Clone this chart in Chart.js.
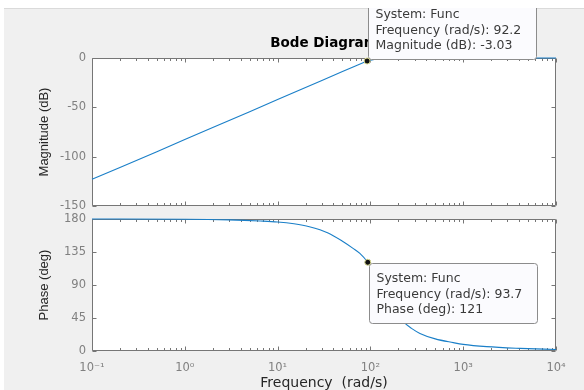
<!DOCTYPE html>
<html>
<head>
<meta charset="utf-8">
<script src="https://cdn.jsdelivr.net/npm/chart.js@4.4.0/dist/chart.umd.min.js"></script>
<style>
  html, body { margin: 0; padding: 0; background: #fff; }
  body { width: 584px; height: 390px; position: relative; overflow: hidden; }
  #fig { position: absolute; left: 4px; top: 8px; width: 580px; height: 382px; background: #f0f0f0; border-top: 1px solid #dadada; box-sizing: border-box; }
  canvas { position: absolute; left: 0; }
  #magChart { top: 8px; }
  #phaseChart { top: 212px; }
</style>
</head>
<body>
<div id="fig"></div>
<canvas id="magChart" width="584" height="204"></canvas>
<canvas id="phaseChart" width="584" height="178"></canvas>
<script>
// magnitude curve
const magFreq = [0.1, 0.2, 0.5, 1, 2, 5, 10, 20, 30, 50, 70, 92.2, 110, 130, 160, 200, 300, 1000, 10000];
const magDb = [-123, -111, -95, -82.5, -70.5, -54.5, -42, -29.8, -22.7, -13.7, -7.8, -3.03, -1.5, -0.7, -0.3, -0.1, 0, 0, 0];

// phase curve
const phaseFreq = [0.1, 1, 3, 6.5, 10, 15, 22, 35, 51, 65, 77, 93.7, 110, 130, 150, 175, 200, 226, 280, 342, 500, 781, 1000, 1790, 4090, 10000];
const phaseDeg = [180, 179.7, 178.8, 177.3, 176, 173.5, 169.5, 161, 149, 140, 133, 121, 108, 90, 75, 60, 49, 40, 30.5, 24, 16.5, 11.4, 9, 5.9, 3.6, 2];

// x axis decades
const xTickValues = [0.1, 1, 10, 100, 1000, 10000];
const xTickLabels = ['10\u207B\u00B9', '10\u2070', '10\u00B9', '10\u00B2', '10\u00B3', '10\u2074'];

// data tips
const magTip = [92.2, -3.03];
const magTipText = ['System: Func', 'Frequency (rad/s): 92.2', 'Magnitude (dB): -3.03'];
const phaseTip = [93.7, 121];
const phaseTipText = ['System: Func', 'Frequency (rad/s): 93.7', 'Phase (deg): 121'];

const lineColor = '#1a7fc8';
const tickColor = '#808080';
const frameColor = '#767676';

// white plot background
const plotBg = {
    id: 'plotBg',
    beforeDraw(chart) {
        const { ctx, chartArea: a } = chart;
        ctx.save();
        ctx.fillStyle = '#fff';
        ctx.fillRect(a.left, a.top, a.right - a.left, a.bottom - a.top);
        ctx.restore();
    }
};

// box around the axes with inward ticks (major + log minor), under the curve
const frame = {
    id: 'frame',
    beforeDatasetsDraw(chart) {
        const { ctx, chartArea: a, scales: { x, y } } = chart;
        const L = Math.round(a.left) + 0.5, R = Math.round(a.right) - 0.5;
        const T = Math.round(a.top) + 0.5, B = Math.round(a.bottom) - 0.5;
        ctx.save();
        ctx.strokeStyle = frameColor;
        ctx.lineWidth = 1;
        ctx.beginPath();
        ctx.rect(L, T, R - L, B - T);
        for (let d = -1; d <= 4; d++) {
            for (let m = 1; m <= 9; m++) {
                const v = m * Math.pow(10, d);
                if (v > 10000) break;
                const px = Math.round(x.getPixelForValue(v)) + 0.5;
                const len = m === 1 ? 4 : 2.5;
                ctx.moveTo(px, B); ctx.lineTo(px, B - len);
                ctx.moveTo(px, T); ctx.lineTo(px, T + len);
            }
        }
        y.ticks.forEach(t => {
            const py = Math.round(y.getPixelForValue(t.value)) + 0.5;
            ctx.moveTo(L, py); ctx.lineTo(L + 4, py);
            ctx.moveTo(R, py); ctx.lineTo(R - 4, py);
        });
        ctx.stroke();
        ctx.restore();
    }
};

function makeTip(id, pt, lines, above) {
    return {
        id: id,
        afterDraw(chart) {
            const { ctx, scales: { x, y } } = chart;
            const px = x.getPixelForValue(pt[0]);
            const py = y.getPixelForValue(pt[1]);
            const w = 168, h = 60;
            const left = Math.round(px) + 1.5;
            const top = above ? Math.round(py) - 1.5 - h : Math.round(py) + 1.5;
            ctx.save();
            ctx.beginPath();
            ctx.roundRect(left, top, w, h, 3);
            ctx.fillStyle = '#fbfbfe';
            ctx.fill();
            ctx.strokeStyle = '#8c8c8c';
            ctx.lineWidth = 1;
            ctx.stroke();
            ctx.fillStyle = '#3a3a3a';
            ctx.font = '12.5px "DejaVu Sans"';
            ctx.textBaseline = 'middle';
            lines.forEach((t, i) => ctx.fillText(t, left + 7, top + 15.5 + i * 15.5));
            // marker
            ctx.beginPath();
            ctx.arc(px, py, 3, 0, Math.PI * 2);
            ctx.fillStyle = '#111';
            ctx.fill();
            ctx.strokeStyle = '#d8d890';
            ctx.stroke();
            ctx.restore();
        }
    };
}

function yAxis(min, max, step, label) {
    return {
        min: min,
        max: max,
        afterFit: s => { s.width = 92; s.paddingTop = 0; s.paddingBottom = 0; },
        ticks: { stepSize: step, padding: 6, color: tickColor, font: { family: 'DejaVu Sans', size: 11.5 } },
        grid: { display: false, drawTicks: false },
        border: { display: false },
        title: {
            display: true,
            text: label,
            color: '#262626',
            font: { family: 'Liberation Sans', size: 13 },
            padding: { top: 37, bottom: 0 }
        }
    };
}

new Chart(document.getElementById('magChart'), {
    type: 'line',
    data: {
        datasets: [{
            data: magFreq.map((f, i) => ({ x: f, y: magDb[i] })),
            borderColor: lineColor,
            borderWidth: 1.1,
            pointRadius: 0,
            fill: false,
            tension: 0,
            clip: 2
        }]
    },
    options: {
        responsive: false,
        animation: false,
        events: [],
        layout: { autoPadding: false, padding: { left: 0, right: 28, top: 0, bottom: 6 } },
        plugins: {
            legend: { display: false },
            tooltip: { enabled: false },
            title: {
                display: true,
                fullSize: false,
                text: 'Bode Diagram',
                color: '#000',
                font: { family: 'DejaVu Sans', size: 13.5, weight: 'bold' },
                padding: { top: 27, bottom: 6.8 }
            }
        },
        scales: {
            x: { type: 'logarithmic', min: 0.1, max: 10000, display: false },
            y: yAxis(-150, 0, 50, 'Magnitude (dB)')
        }
    },
    plugins: [plotBg, frame, makeTip('magTip', magTip, magTipText, true)]
});

new Chart(document.getElementById('phaseChart'), {
    type: 'line',
    data: {
        datasets: [{
            data: phaseFreq.map((f, i) => ({ x: f, y: phaseDeg[i] })),
            borderColor: lineColor,
            borderWidth: 1.1,
            pointRadius: 0,
            fill: false,
            cubicInterpolationMode: 'monotone',
            clip: 2
        }]
    },
    options: {
        responsive: false,
        animation: false,
        events: [],
        layout: { autoPadding: false, padding: { left: 0, right: 28, top: 7, bottom: 0 } },
        plugins: {
            legend: { display: false },
            tooltip: { enabled: false }
        },
        scales: {
            x: {
                type: 'logarithmic',
                min: 0.1,
                max: 10000,
                afterBuildTicks: s => { s.ticks = xTickValues.map(v => ({ value: v })); },
                afterFit: s => { s.height = 39; s.paddingLeft = 0; s.paddingRight = 0; },
                ticks: {
                    autoSkip: false,
                    maxRotation: 0,
                    padding: 10,
                    color: tickColor,
                    font: { family: 'DejaVu Sans', size: 11.5 },
                    callback: (v, i) => xTickLabels[i]
                },
                grid: { display: false, drawTicks: false },
                border: { display: false },
                title: {
                    display: true,
                    text: 'Frequency  (rad/s)',
                    color: '#262626',
                    font: { family: 'DejaVu Sans', size: 14, lineHeight: 1 },
                    padding: { top: 0, bottom: 0 }
                }
            },
            y: yAxis(0, 180, 45, 'Phase (deg)')
        }
    },
    plugins: [plotBg, frame, makeTip('phaseTip', phaseTip, phaseTipText, false)]
});
</script>
</body>
</html>
